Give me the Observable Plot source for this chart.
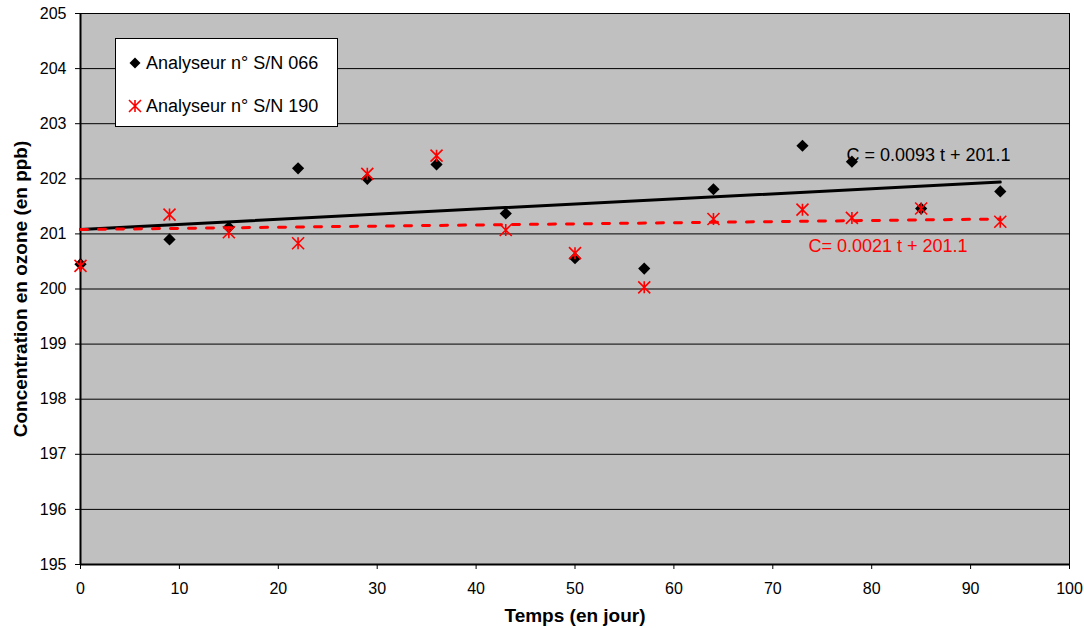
<!DOCTYPE html>
<html><head><meta charset="utf-8">
<script src="https://cdn.jsdelivr.net/npm/d3@7"></script>
<script src="https://cdn.jsdelivr.net/npm/@observablehq/plot@0.6"></script>
<style>
body{margin:0;background:#fff;}
#wrap{position:relative;width:1084px;height:628px;font-family:Arial,"Liberation Sans",sans-serif;}
#legend{position:absolute;left:115px;top:38px;width:221px;height:87px;border:1px solid #000;background:#fff;box-sizing:content-box;}
.row{position:absolute;left:12px;height:22px;display:flex;align-items:center;font-size:18px;color:#000;white-space:nowrap;}
.row svg{margin-right:4px;}
</style></head><body><div id="wrap"></div>
<script>
const days = [0, 9, 15, 22, 29, 36, 43, 50, 57, 64, 73, 78, 85, 93];
const sn066 = [200.45, 200.90, 201.12, 202.19, 202.00, 202.26, 201.37, 200.56, 200.37, 201.81, 202.60, 202.31, 201.46, 201.77];
const sn190 = [200.42, 201.35, 201.03, 200.83, 202.09, 202.42, 201.07, 200.65, 200.03, 201.27, 201.44, 201.29, 201.46, 201.22];
const trendDays = [0, 93];
const trend066 = [201.08, 201.94];
const trend190 = [201.08, 201.27];
const xTicks = [0, 10, 20, 30, 40, 50, 60, 70, 80, 90, 100];
const yTicks = [195, 196, 197, 198, 199, 200, 201, 202, 203, 204, 205];
const seriesNames = ["Analyseur n° S/N 066", "Analyseur n° S/N 190"];
const equations = ["C = 0.0093 t + 201.1", "C= 0.0021 t + 201.1"];
const xTitle = "Temps (en jour)";
const yTitle = "Concentration en ozone (en ppb)";

const rows = days.map((t, i) => ({t, a: sn066[i], b: sn190[i]}));
const trendRows = trendDays.map((t, i) => ({t, a: trend066[i], b: trend190[i]}));

const star = {draw(ctx, size) {
  const r = Math.sqrt(size / Math.PI);
  ctx.moveTo(-r, -r); ctx.lineTo(r, r);
  ctx.moveTo(r, -r); ctx.lineTo(-r, r);
  ctx.moveTo(0, -r); ctx.lineTo(0, r);
}};

const font = 'Arial, "Liberation Sans", sans-serif';
const chart = Plot.plot({
  width: 1084, height: 628,
  marginLeft: 80, marginRight: 15, marginTop: 13, marginBottom: 64,
  style: {fontFamily: font, fontSize: "16px", color: "#000", background: "transparent"},
  x: {domain: [0, 100]},
  y: {domain: [195, 205]},
  marks: [
    Plot.frame({fill: "#c0c0c0", stroke: null}),
    Plot.gridY(yTicks, {stroke: "#000", strokeOpacity: 1, strokeWidth: 1}),
    Plot.frame({stroke: "#000", strokeWidth: 1}),
    Plot.ruleX([0], {stroke: "#000", strokeWidth: 2}),
    Plot.ruleY([195], {stroke: "#000", strokeWidth: 2}),
    Plot.axisX(xTicks, {tickSize: 5, tickPadding: 13, label: null, fontSize: 16, tickFormat: d => String(d)}),
    Plot.axisY(yTicks, {tickSize: 5, tickPadding: 9, label: null, fontSize: 16, tickFormat: d => String(d)}),
    Plot.dot(rows, {x: "t", y: "a", symbol: "diamond2", r: 5.5, fill: "#000", stroke: null}),
    Plot.dot(rows, {x: "t", y: "b", symbol: star, r: 6, fill: "none", stroke: "#ff0000", strokeWidth: 1.6}),
    Plot.line(trendRows, {x: "t", y: "a", stroke: "#000", strokeWidth: 3}),
    Plot.line(trendRows, {x: "t", y: "b", stroke: "#ff0000", strokeWidth: 3, strokeDasharray: "7,11"}),
    Plot.text([equations[0]], {frameAnchor: "top-left", dx: 766, dy: 142, textAnchor: "start", lineAnchor: "middle", fontSize: 18, fill: "#000"}),
    Plot.text([equations[1]], {frameAnchor: "top-left", dx: 728, dy: 233, textAnchor: "start", lineAnchor: "middle", fontSize: 18, fill: "#ff0000"}),
    Plot.text([xTitle], {frameAnchor: "bottom", dy: 51, textAnchor: "middle", lineAnchor: "middle", fontSize: 19, fontWeight: "bold", fill: "#000"}),
    Plot.text([yTitle], {frameAnchor: "left", dx: -60, rotate: -90, textAnchor: "middle", lineAnchor: "middle", fontSize: 19, fontWeight: "bold", fill: "#000"})
  ]
});
const wrap = document.getElementById("wrap");
wrap.appendChild(chart);

const legend = document.createElement("div");
legend.id = "legend";
const icons = [
  '<svg width="14" height="14" viewBox="-7 -7 14 14"><path d="M0,-5.5L5.5,0L0,5.5L-5.5,0Z" fill="#000"/></svg>',
  '<svg width="14" height="14" viewBox="-7 -7 14 14"><path d="M-6,-6L6,6M6,-6L-6,6M0,-6L0,6" stroke="#ff0000" stroke-width="1.6" fill="none"/></svg>'
];
const tops = [13, 56];
seriesNames.forEach((name, i) => {
  const row = document.createElement("div");
  row.className = "row";
  row.style.top = tops[i] + "px";
  row.innerHTML = icons[i] + "<span>" + name + "</span>";
  legend.appendChild(row);
});
wrap.appendChild(legend);
</script></body></html>
